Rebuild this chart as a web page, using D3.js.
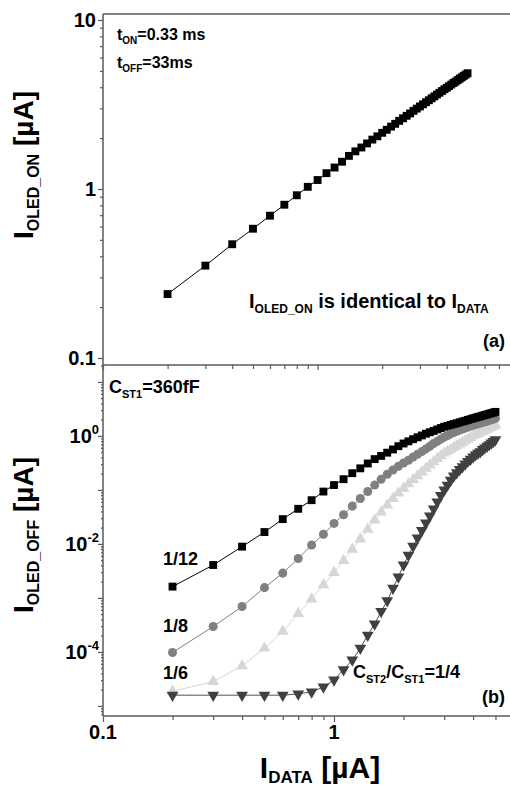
<!DOCTYPE html>
<html><head><meta charset="utf-8">
<script src="https://cdn.jsdelivr.net/npm/d3@7"></script>
<style>
html,body{margin:0;padding:0;background:#fff;}
svg{display:block;}
text{font-family:"Liberation Sans",Arial,sans-serif;font-weight:bold;fill:#000;}
</style></head><body>
<svg id="c" width="510" height="790"></svg>
<script>
// ---------------- DATA ----------------
const iData = [0.2,0.3,0.4,0.5,0.6,0.7,0.8,0.9,1.0,1.1,1.2,1.3,1.4,1.5,1.6,1.7,1.8,1.9,2.0,2.1,2.2,2.3,2.4,2.5,2.6,2.7,2.8,2.9,3.0,3.1,3.2,3.3,3.4,3.5,3.6,3.7,3.8,3.9,4.0,4.1,4.2,4.3,4.4,4.5,4.6,4.7,4.8,4.9,5.0];

// panel (a): I_OLED_ON [uA]
const iOledOn = [0.239,0.352,0.471,0.582,0.695,0.807,0.918,1.03,1.13,1.24,1.34,1.45,1.57,1.67,1.76,1.86,1.96,2.05,2.15,2.24,2.34,2.43,2.53,2.62,2.71,2.80,2.90,2.99,3.08,3.17,3.26,3.35,3.44,3.53,3.62,3.71,3.80,3.89,3.97,4.06,4.15,4.24,4.32,4.41,4.50,4.58,4.67,4.75,4.84];

// panel (b): I_OLED_OFF [uA] for C_ST2/C_ST1 ratios
const off_1_12 = [1.62e-3,4.07e-3,8.91e-3,1.66e-2,2.88e-2,4.47e-2,6.46e-2,9.33e-2,0.123,
  0.158,0.204,0.251,0.309,0.372,0.427,0.490,0.562,0.646,0.724,
  0.794,0.871,0.944,1.02,1.10,1.17,1.24,1.32,1.40,1.48,
  1.54,1.60,1.66,1.72,1.79,1.85,1.91,1.98,2.05,2.12,
  2.18,2.25,2.31,2.38,2.44,2.51,2.58,2.64,2.71,2.79];
const off_1_8 = [9.77e-5,2.95e-4,6.92e-4,1.55e-3,2.88e-3,5.37e-3,9.55e-3,1.51e-2,2.40e-2,
  3.47e-2,5.01e-2,6.92e-2,9.33e-2,0.123,0.158,0.195,0.234,0.275,0.316,
  0.355,0.407,0.457,0.513,0.575,0.646,0.724,0.794,0.871,0.955,
  1.02,1.09,1.16,1.22,1.28,1.34,1.40,1.46,1.52,1.58,
  1.63,1.68,1.73,1.78,1.83,1.88,1.94,1.99,2.05,2.12];
const off_1_6 = [1.86e-5,2.82e-5,5.50e-5,1.17e-4,2.40e-4,5.13e-4,9.55e-4,1.74e-3,2.95e-3,
  4.90e-3,7.94e-3,1.23e-2,1.86e-2,2.75e-2,3.89e-2,5.25e-2,6.92e-2,8.71e-2,0.107,
  0.129,0.155,0.182,0.214,0.251,0.288,0.331,0.380,0.427,0.479,
  0.519,0.562,0.610,0.661,0.708,0.759,0.813,0.871,0.933,1.00,
  1.05,1.10,1.16,1.22,1.27,1.33,1.39,1.45,1.52,1.58];
const off_1_4 = [1.58e-5,1.58e-5,1.58e-5,1.58e-5,1.58e-5,1.66e-5,1.82e-5,2.24e-5,3.02e-5,
  4.68e-5,7.08e-5,1.17e-4,2.04e-4,3.31e-4,5.62e-4,8.91e-4,1.51e-3,2.45e-3,4.07e-3,
  6.17e-3,9.12e-3,1.29e-2,1.78e-2,2.45e-2,3.31e-2,4.47e-2,6.03e-2,7.94e-2,0.100,
  0.123,0.151,0.182,0.209,0.240,0.269,0.302,0.339,0.372,0.407,
  0.447,0.479,0.513,0.562,0.603,0.646,0.692,0.741,0.794,0.851];

const topYTickValues = [0.1, 1, 10];
const topYTickLabels = ["0.1", "1", "10"];
const botYTickValues = [1e-4, 1e-2, 1];
const botYTickExps = ["-4", "-2", "0"];
const xTickValues = [0.1, 1];
const xTickLabels = ["0.1", "1"];

// ---------------- LAYOUT ----------------
const svg = d3.select("#c");
const L = 103, R = 510;
const aTop = 14, mid = 365, bBot = 716;

const xA = d3.scaleLog().domain([0.1, 7.8]).range([L, R - 1]);
const yA = d3.scaleLog().domain([0.0909, 10.85]).range([mid, aTop]);
const xB = d3.scaleLog().domain([0.1, 5.78]).range([L, R]);
const yB = d3.scaleLog().domain([6.5e-6, 20.6]).range([bBot, mid]);

const axisColor = "#5a5a5a";

function isMajor(v) { const l = Math.log10(v); return Math.abs(l - Math.round(l)) < 1e-6; }

function ticks(g, axisFn, scale, values, size) {
  g.call(axisFn(scale).tickValues(values).tickSize(size).tickSizeOuter(0).tickFormat(""));
  g.select(".domain").remove();
  g.selectAll(".tick line").attr("stroke", axisColor).attr("stroke-width", 1.2);
}

// Panel (a) axes ticks
const gAyMaj = svg.append("g").attr("transform", `translate(${L},0)`);
ticks(gAyMaj, d3.axisLeft, yA, yA.ticks().filter(isMajor), 5);
const gAyMin = svg.append("g").attr("transform", `translate(${L},0)`);
ticks(gAyMin, d3.axisLeft, yA, yA.ticks().filter(v => !isMajor(v)), 3);
const gAxMaj = svg.append("g").attr("transform", `translate(0,${mid})`);
ticks(gAxMaj, d3.axisBottom, xA, xA.ticks().filter(isMajor), 5);
const gAxMin = svg.append("g").attr("transform", `translate(0,${mid})`);
ticks(gAxMin, d3.axisBottom, xA, xA.ticks().filter(v => !isMajor(v)), 4);

// Panel (b) axes ticks
const gByMaj = svg.append("g").attr("transform", `translate(${L},0)`);
ticks(gByMaj, d3.axisLeft, yB, yB.ticks().filter(isMajor), 5);
const gByMin = svg.append("g").attr("transform", `translate(${L},0)`);
ticks(gByMin, d3.axisLeft, yB, yB.ticks().filter(v => !isMajor(v)), 2);
const gBxMaj = svg.append("g").attr("transform", `translate(0,${bBot})`);
ticks(gBxMaj, d3.axisBottom, xB, xB.ticks().filter(isMajor), 6);
const gBxMin = svg.append("g").attr("transform", `translate(0,${bBot})`);
ticks(gBxMin, d3.axisBottom, xB, xB.ticks().filter(v => !isMajor(v)), 4);

// frame lines
const frame = svg.append("g").attr("stroke", axisColor).attr("stroke-width", 1.5);
frame.append("line").attr("x1", L).attr("x2", R).attr("y1", aTop).attr("y2", aTop);
frame.append("line").attr("x1", L).attr("x2", R).attr("y1", mid).attr("y2", mid);
frame.append("line").attr("x1", L).attr("x2", R).attr("y1", bBot).attr("y2", bBot);
frame.append("line").attr("x1", L).attr("x2", L).attr("y1", aTop).attr("y2", bBot);

// rich text helper
function rich(x, y, parts, size, opts = {}) {
  const t = svg.append("text").attr("x", x).attr("y", y).attr("font-size", size)
    .attr("text-anchor", opts.anchor || "start");
  if (opts.transform) t.attr("transform", opts.transform).attr("x", 0).attr("y", 0);
  let cur = 0;
  parts.forEach(p => {
    const [s, mode] = p;
    let target = 0, fs = size;
    if (mode === "sub") { target = opts.subDy || size * 0.25; fs = opts.subSize || size * 0.6; }
    if (mode === "sup") { target = -(opts.supDy || size * 0.4); fs = opts.supSize || size * 0.65; }
    t.append("tspan").attr("dy", target - cur).attr("font-size", fs).text(s);
    cur = target;
  });
  return t;
}

// tick labels
topYTickValues.forEach((v, i) => {
  svg.append("text").attr("x", 96).attr("y", yA(v) + 7).attr("font-size", 20)
    .attr("text-anchor", "end").text(topYTickLabels[i]);
});
botYTickValues.forEach((v, i) => {
  rich(99, yB(v) + 7, [["10"], [botYTickExps[i], "sup"]], 20, {anchor: "end", supSize: 13, supDy: 9});
});
xTickValues.forEach((v, i) => {
  svg.append("text").attr("x", xB(v)).attr("y", 739).attr("font-size", 20)
    .attr("text-anchor", "middle").text(xTickLabels[i]);
});

// axis titles
rich(0, 0, [["I"], ["OLED_ON", "sub"], [" [\u00B5A]"]], 28,
  {anchor: "middle", transform: "translate(33,165) rotate(-90)", subSize: 16, subDy: 6});
rich(0, 0, [["I"], ["OLED_OFF", "sub"], [" [\u00B5A]"]], 28,
  {anchor: "middle", transform: "translate(33,535) rotate(-90)", subSize: 16, subDy: 6});
rich(320, 778, [["I"], ["DATA", "sub"], [" [\u00B5A]"]], 30,
  {anchor: "middle", subSize: 17, subDy: 5});

// annotations
rich(117, 40, [["t"], ["ON", "sub"], ["=0.33 ms"]], 16, {subSize: 10, subDy: 4});
rich(117, 68, [["t"], ["OFF", "sub"], ["=33ms"]], 16, {subSize: 10, subDy: 4});
rich(249, 308, [["I"], ["OLED_ON", "sub"], [" is identical to I"], ["DATA", "sub"]], 20, {subSize: 12, subDy: 5});
svg.append("text").attr("x", 505).attr("y", 347).attr("font-size", 18).attr("text-anchor", "end").text("(a)");
rich(109, 393, [["C"], ["ST1", "sub"], ["=360fF"]], 18, {subSize: 11, subDy: 5});
svg.append("text").attr("x", 163).attr("y", 565).attr("font-size", 18).text("1/12");
svg.append("text").attr("x", 163).attr("y", 632).attr("font-size", 18).text("1/8");
svg.append("text").attr("x", 163).attr("y", 679).attr("font-size", 18).text("1/6");
rich(353, 678, [["C"], ["ST2", "sub"], ["/C"], ["ST1", "sub"], ["=1/4"]], 18, {subSize: 11, subDy: 5});
svg.append("text").attr("x", 505).attr("y", 703).attr("font-size", 18).attr("text-anchor", "end").text("(b)");

// ---------------- SERIES ----------------
function series(xs, ys, xScale, yScale, color, lineColor, symbol, size, rotate) {
  const pts = xs.map((x, i) => [xScale(x), yScale(ys[i])]);
  svg.append("path").attr("d", d3.line()(pts)).attr("fill", "none")
    .attr("stroke", lineColor).attr("stroke-width", 1);
  const sym = d3.symbol().type(symbol).size(size);
  svg.append("g").selectAll("path").data(pts).join("path")
    .attr("d", sym)
    .attr("transform", d => `translate(${d[0]},${d[1]})${rotate ? " rotate(180)" : ""}`)
    .attr("fill", color);
}

series(iData, iOledOn, xA, yA, "#000", "#000", d3.symbolSquare, 62, false);

series(iData, off_1_6, xB, yB, "#d6d6d6", "#d6d6d6", d3.symbolTriangle, 60, false);
series(iData, off_1_8, xB, yB, "#808080", "#808080", d3.symbolCircle, 64, false);
series(iData, off_1_12, xB, yB, "#000", "#000", d3.symbolSquare, 62, false);
series(iData, off_1_4, xB, yB, "#404040", "#505050", d3.symbolTriangle, 60, true);
</script>
</body></html>
